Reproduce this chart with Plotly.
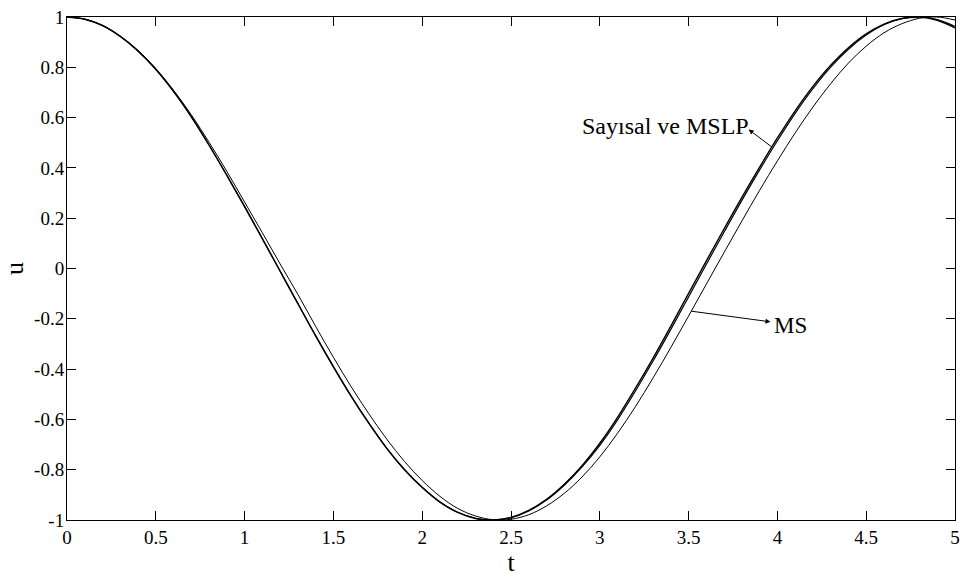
import plotly.graph_objects as go

# Time grid (s)
t = [round(0.1 * i, 1) for i in range(51)]

# Numerical solution (Sayısal)
u_sayisal = [1.000, 0.991, 0.966, 0.923, 0.865, 0.792, 0.704, 0.603, 0.490, 0.370,
             0.246, 0.118, -0.011, -0.140, -0.268, -0.391, -0.508, -0.616, -0.715, -0.800,
             -0.871, -0.929, -0.970, -0.994, -1.000, -0.990, -0.962, -0.918, -0.858, -0.784,
             -0.695, -0.592, -0.477, -0.356, -0.229, -0.099, 0.030, 0.158, 0.283, 0.403,
             0.519, 0.627, 0.724, 0.808, 0.878, 0.933, 0.972, 0.994, 1.000, 0.987, 0.957]

# MSLP solution
u_mslp = [1.000, 0.991, 0.966, 0.923, 0.865, 0.792, 0.704, 0.604, 0.491, 0.371,
          0.247, 0.119, -0.010, -0.139, -0.267, -0.390, -0.507, -0.615, -0.714, -0.799,
          -0.870, -0.928, -0.969, -0.993, -1.000, -0.991, -0.964, -0.921, -0.862, -0.789,
          -0.703, -0.602, -0.488, -0.368, -0.242, -0.113, 0.017, 0.145, 0.271, 0.392,
          0.508, 0.617, 0.715, 0.801, 0.872, 0.928, 0.969, 0.993, 1.000, 0.990, 0.963]

# MS solution
u_ms = [1.000, 0.992, 0.967, 0.924, 0.867, 0.795, 0.709, 0.611, 0.502, 0.386,
        0.264, 0.142, 0.018, -0.103, -0.230, -0.353, -0.470, -0.578, -0.678, -0.767,
        -0.843, -0.906, -0.954, -0.984, -0.999, -0.997, -0.979, -0.944, -0.894, -0.829,
        -0.749, -0.655, -0.550, -0.435, -0.314, -0.189, -0.062, 0.064, 0.189, 0.311,
        0.428, 0.539, 0.642, 0.735, 0.817, 0.884, 0.937, 0.973, 0.995, 1.000, 0.988]

x_ticks = [0, 0.5, 1, 1.5, 2, 2.5, 3, 3.5, 4, 4.5, 5]
x_tick_text = ["0", "0.5", "1", "1.5", "2", "2.5", "3", "3.5", "4", "4.5", "5"]
y_ticks = [-1, -0.8, -0.6, -0.4, -0.2, 0, 0.2, 0.4, 0.6, 0.8, 1]
y_tick_text = ["-1", "-0.8", "-0.6", "-0.4", "-0.2", "0", "0.2", "0.4", "0.6", "0.8", "1"]

FONT = "Liberation Serif, Times New Roman, serif"

fig = go.Figure()
fig.add_trace(go.Scatter(x=t, y=u_ms, mode="lines", name="MS",
                         line=dict(color="black", width=1, shape="spline")))
fig.add_trace(go.Scatter(x=t, y=u_sayisal, mode="lines", name="Sayısal",
                         line=dict(color="black", width=1.4, shape="spline")))
fig.add_trace(go.Scatter(x=t, y=u_mslp, mode="lines", name="MSLP",
                         line=dict(color="black", width=1.2, shape="spline")))

# Labels with arrows pointing from the curves to the text
fig.add_annotation(x=3.838, y=0.553, ax=3.978, ay=0.478, xref="x", yref="y",
                   axref="x", ayref="y", text="", showarrow=True,
                   arrowhead=2, arrowsize=1, arrowwidth=1, arrowcolor="black")
fig.add_annotation(x=3.850, y=0.565, xref="x", yref="y", text="Sayısal ve MSLP",
                   showarrow=False, xanchor="right", yanchor="middle",
                   font=dict(family=FONT, size=24, color="black"))
fig.add_annotation(x=3.961, y=-0.212, ax=3.507, ay=-0.169, xref="x", yref="y",
                   axref="x", ayref="y", text="", showarrow=True,
                   arrowhead=2, arrowsize=1, arrowwidth=1, arrowcolor="black")
fig.add_annotation(x=3.970, y=-0.227, xref="x", yref="y", text="MS",
                   showarrow=False, xanchor="left", yanchor="middle",
                   font=dict(family=FONT, size=23, color="black"))

axis_common = dict(showline=True, linecolor="black", linewidth=1, mirror="ticks",
                   ticks="inside", ticklen=9, tickwidth=1, tickcolor="black",
                   showgrid=False, zeroline=False, ticklabeloverflow="allow",
                   tickfont=dict(family=FONT, size=19, color="black"))

fig.update_xaxes(range=[0, 5], tickvals=x_ticks, ticktext=x_tick_text,
                 ticklabelstandoff=0,
                 title=dict(text="t", font=dict(family=FONT, size=26, color="black"),
                            standoff=0),
                 **axis_common)
fig.update_yaxes(range=[-1, 1], tickvals=y_ticks, ticktext=y_tick_text,
                 ticklabelstandoff=-2,
                 title=dict(text="u", font=dict(family=FONT, size=26, color="black"),
                            standoff=8),
                 **axis_common)

fig.update_layout(width=967, height=579, showlegend=False,
                  plot_bgcolor="white", paper_bgcolor="white",
                  margin=dict(l=67, r=7, t=10, b=59))

fig.write_html("out.html")
